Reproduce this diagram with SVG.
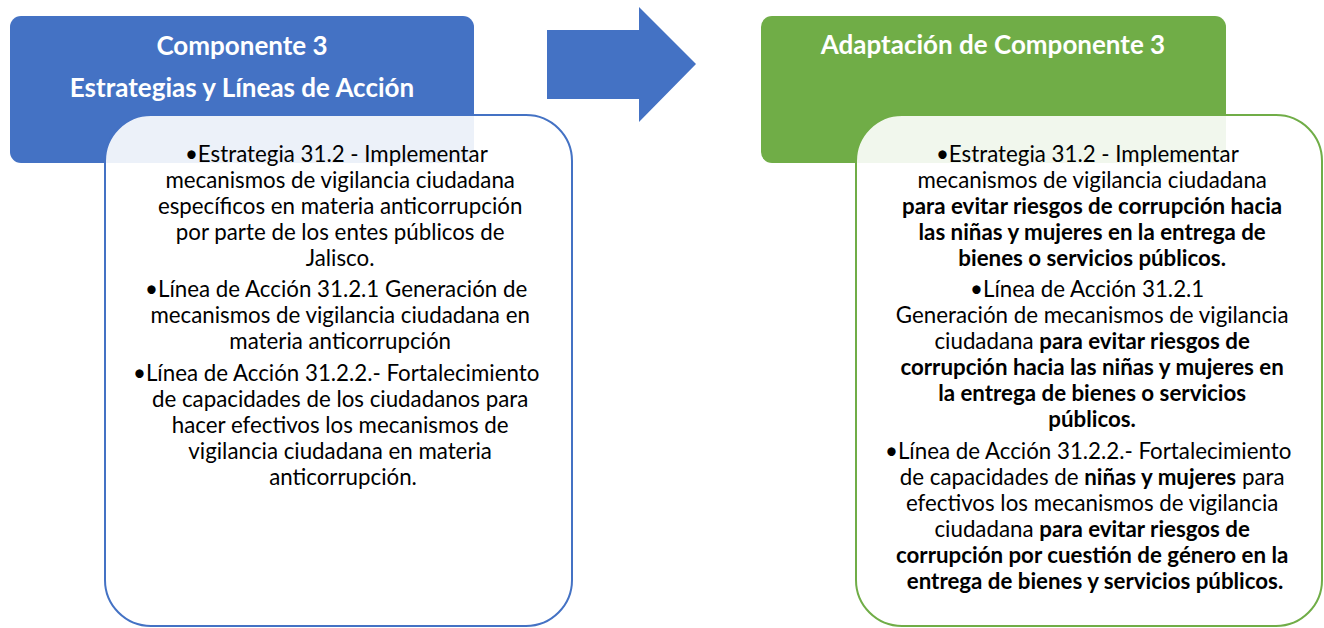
<svg xmlns="http://www.w3.org/2000/svg" width="1324" height="628" viewBox="0 0 1324 628">
<style>
.hdr{font-family:Lato,"Liberation Sans",sans-serif;font-weight:bold;font-size:26px;fill:#fff;text-anchor:middle}
.body{font-family:Lato,"Liberation Sans",sans-serif;font-size:22.3px;fill:#000;text-anchor:middle}
.b{font-weight:bold}
</style>
<rect width="1324" height="628" fill="#fff"/>
<g id="connectors">
<polygon points="547,30 639,30 639,7 696,64 639,122 639,99 547,99" fill="#4472C4"/>
</g>
<g id="left-header">
<rect x="10" y="16" width="464" height="147" rx="11" fill="#4472C4"/>
<text class="hdr" x="242" y="55">Componente 3</text>
<text class="hdr" x="242" y="97">Estrategias y Líneas de Acción</text>
</g>
<g id="left-body">
<rect x="105" y="115" width="467" height="511" rx="46" fill="#fff" fill-opacity="0.9" stroke="#4472C4" stroke-width="2"/>
<text class="body">
<tspan x="339" y="162">•Estrategia 31.2 - Implementar</tspan>
<tspan x="343" y="188">mecanismos de vigilancia ciudadana</tspan>
<tspan x="343" y="214">específicos en materia anticorrupción</tspan>
<tspan x="343" y="240">por parte de los entes públicos de</tspan>
<tspan x="343" y="266">Jalisco.</tspan>
<tspan x="339" y="297">•Línea de Acción 31.2.1 Generación de</tspan>
<tspan x="343" y="323">mecanismos de vigilancia ciudadana en</tspan>
<tspan x="343" y="349">materia anticorrupción</tspan>
<tspan x="339" y="381">•Línea de Acción 31.2.2.- Fortalecimiento</tspan>
<tspan x="343" y="407">de capacidades de los ciudadanos para</tspan>
<tspan x="343" y="433">hacer efectivos los mecanismos de</tspan>
<tspan x="343" y="459">vigilancia ciudadana en materia</tspan>
<tspan x="343" y="485">anticorrupción.</tspan>
</text>
</g>
<g id="right-header">
<rect x="761" y="16" width="465" height="147" rx="11" fill="#70AD47"/>
<text class="hdr" x="993" y="54">Adaptación de Componente 3</text>
</g>
<g id="right-body">
<rect x="856" y="115" width="466" height="511" rx="46" fill="#fff" fill-opacity="0.9" stroke="#70AD47" stroke-width="2"/>
<text class="body">
<tspan x="1090" y="162">•Estrategia 31.2 - Implementar</tspan>
<tspan x="1095" y="188">mecanismos de vigilancia ciudadana</tspan>
<tspan x="1095" y="214" class="b">para evitar riesgos de corrupción hacia</tspan>
<tspan x="1095" y="240" class="b">las niñas y mujeres en la entrega de</tspan>
<tspan x="1095" y="266" class="b">bienes o servicios públicos.</tspan>
<tspan x="1090" y="297">•Línea de Acción 31.2.1</tspan>
<tspan x="1095" y="323">Generación de mecanismos de vigilancia</tspan>
<tspan x="1095" y="349">ciudadana <tspan class="b">para evitar riesgos de</tspan></tspan>
<tspan x="1095" y="375" class="b">corrupción hacia las niñas y mujeres en</tspan>
<tspan x="1095" y="401" class="b">la entrega de bienes o servicios</tspan>
<tspan x="1095" y="427" class="b">públicos.</tspan>
<tspan x="1091" y="459">•Línea de Acción 31.2.2.- Fortalecimiento</tspan>
<tspan x="1095" y="485">de capacidades de <tspan class="b">niñas y mujeres</tspan> para</tspan>
<tspan x="1095" y="511">efectivos los mecanismos de vigilancia</tspan>
<tspan x="1095" y="537">ciudadana <tspan class="b">para evitar riesgos de</tspan></tspan>
<tspan x="1095" y="563" class="b">corrupción por cuestión de género en la</tspan>
<tspan x="1095" y="589" class="b">entrega de bienes y servicios públicos.</tspan>
</text>
</g>
</svg>
